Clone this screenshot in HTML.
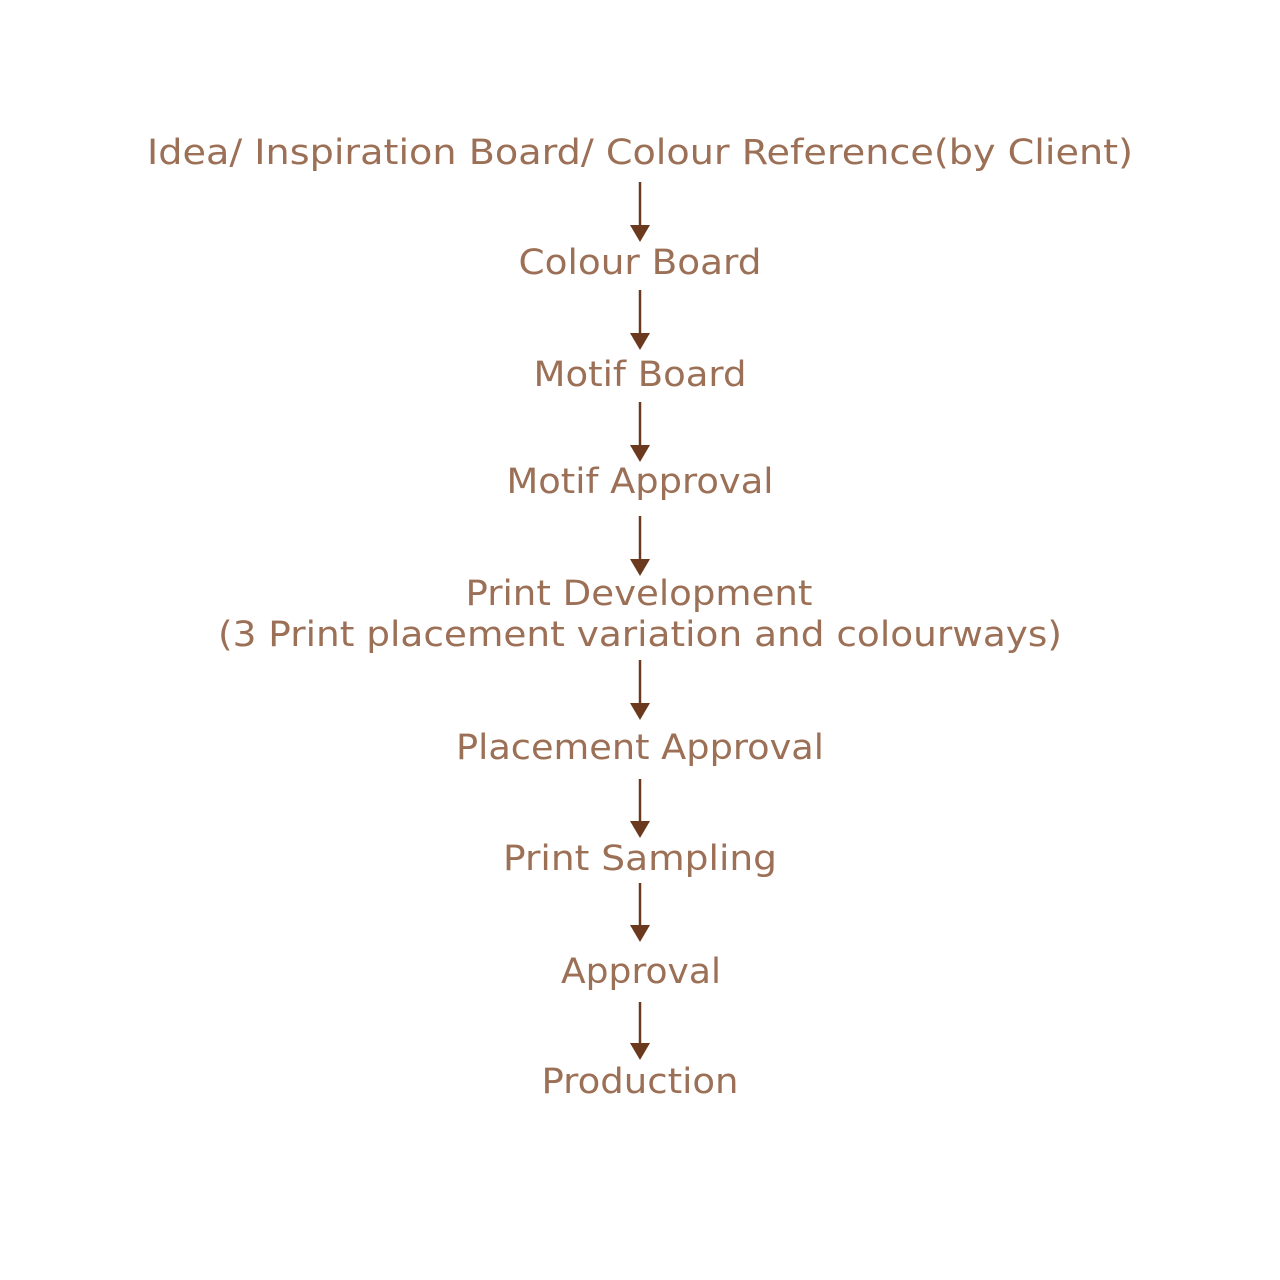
<!DOCTYPE html>
<html><head><meta charset="utf-8"><style>html,body{margin:0;padding:0;background:#fff}</style></head>
<body>
<svg width="1280" height="1280" xmlns="http://www.w3.org/2000/svg" style="display:block">
<g font-family="DejaVu Sans, Verdana, sans-serif" font-size="35" fill="#9c7056" text-anchor="middle">
<text x="640" y="164" textLength="986" lengthAdjust="spacingAndGlyphs">Idea/ Inspiration Board/ Colour Reference(by Client)</text>
<text x="640" y="274" textLength="243" lengthAdjust="spacingAndGlyphs">Colour Board</text>
<text x="640" y="386" textLength="213" lengthAdjust="spacingAndGlyphs">Motif Board</text>
<text x="640" y="493" textLength="267" lengthAdjust="spacingAndGlyphs">Motif Approval</text>
<text x="639" y="605" textLength="347" lengthAdjust="spacingAndGlyphs">Print Development</text>
<text x="640" y="646" textLength="844" lengthAdjust="spacingAndGlyphs">(3 Print placement variation and colourways)</text>
<text x="640" y="759" textLength="368" lengthAdjust="spacingAndGlyphs">Placement Approval</text>
<text x="640" y="870" textLength="274" lengthAdjust="spacingAndGlyphs">Print Sampling</text>
<text x="641" y="983" textLength="160" lengthAdjust="spacingAndGlyphs">Approval</text>
<text x="640" y="1093" textLength="197" lengthAdjust="spacingAndGlyphs">Production</text>
</g>
<g stroke="#6b3a1e" stroke-width="2.5">
<line x1="640" y1="182" x2="640" y2="228"/>
<line x1="640" y1="290" x2="640" y2="336"/>
<line x1="640" y1="402" x2="640" y2="448"/>
<line x1="640" y1="516" x2="640" y2="562"/>
<line x1="640" y1="660" x2="640" y2="706"/>
<line x1="640" y1="779" x2="640" y2="825"/>
<line x1="640" y1="883" x2="640" y2="929"/>
<line x1="640" y1="1002" x2="640" y2="1046"/>
</g>
<g fill="#6b3a1e">
<polygon points="630,225 650,225 640,242"/>
<polygon points="630,333 650,333 640,350"/>
<polygon points="630,445 650,445 640,462"/>
<polygon points="630,559 650,559 640,576"/>
<polygon points="630,703 650,703 640,720"/>
<polygon points="630,821 650,821 640,838"/>
<polygon points="630,925 650,925 640,942"/>
<polygon points="630,1043 650,1043 640,1060"/>
</g>
</svg>
</body></html>
